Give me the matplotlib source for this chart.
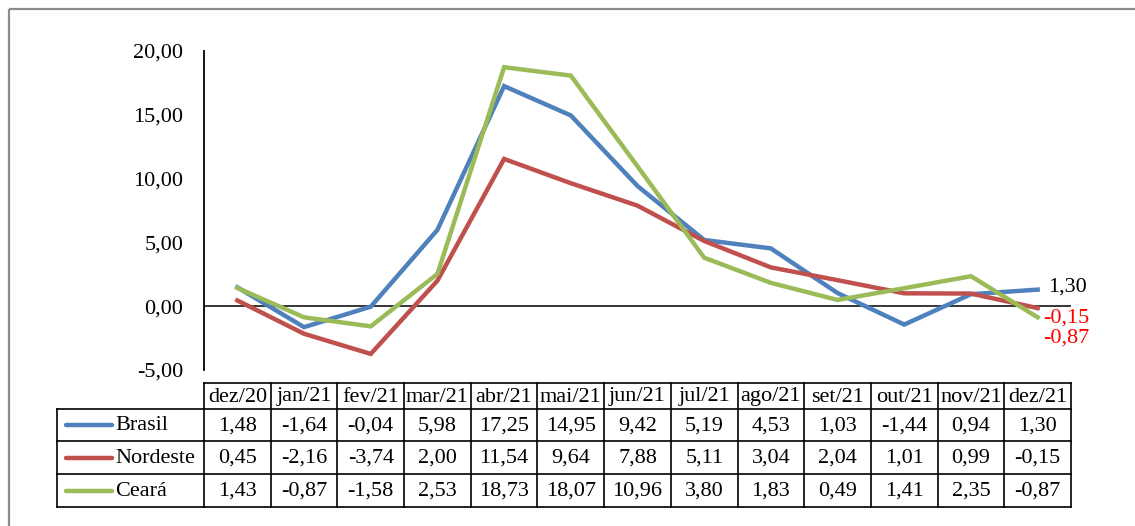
import matplotlib
matplotlib.use("Agg")
import matplotlib.pyplot as plt
from matplotlib.lines import Line2D
from matplotlib.patches import Rectangle

months = ["dez/20", "jan/21", "fev/21", "mar/21", "abr/21", "mai/21", "jun/21",
          "jul/21", "ago/21", "set/21", "out/21", "nov/21", "dez/21"]
series_names = ["Brasil", "Nordeste", "Ceará"]
brasil = [1.48, -1.64, -0.04, 5.98, 17.25, 14.95, 9.42, 5.19, 4.53, 1.03, -1.44, 0.94, 1.30]
nordeste = [0.45, -2.16, -3.74, 2.00, 11.54, 9.64, 7.88, 5.11, 3.04, 2.04, 1.01, 0.99, -0.15]
ceara = [1.43, -0.87, -1.58, 2.53, 18.73, 18.07, 10.96, 3.80, 1.83, 0.49, 1.41, 2.35, -0.87]
yticks = [-5, 0, 5, 10, 15, 20]

colors = ["#4F81BD", "#C0504D", "#9BBB59"]
values = [brasil, nordeste, ceara]

def fmt(v):
    return f"{v:.2f}".replace(".", ",")

W, H = 1135, 526
fig = plt.figure(figsize=(W / 100, H / 100), dpi=100)
plt.rcParams['font.family'] = ['Liberation Serif', 'DejaVu Serif']
FS = 16

# plot axes geometry in pixels
L, R, T, B = 204, 1071, 51, 370
ax = fig.add_axes([L / W, 1 - B / H, (R - L) / W, (B - T) / H])
n = len(months)
x = list(range(n))
for vals, c in zip(values, colors):
    ax.plot(x, vals, color=c, lw=3.2, solid_joinstyle='miter', zorder=3)
ax.set_xlim(-0.5, n - 0.5)
ax.set_ylim(-5, 20)
ax.set_yticks(yticks)
ax.set_yticklabels([fmt(v) for v in yticks], fontsize=FS)
ax.tick_params(axis='y', length=0, pad=15)
ax.set_xticks([])
for s in ["top", "right", "bottom"]:
    ax.spines[s].set_visible(False)
ax.spines["left"].set_linewidth(1.3)
ax.axhline(0, color="black", lw=1.1, zorder=2)
ax.patch.set_alpha(0)

# end labels
ax.annotate(fmt(brasil[-1]), xy=(n - 1, brasil[-1]), xytext=(10, 3),
            textcoords="offset pixels", fontsize=FS, color="black", va="center", ha="left")
ax.annotate(fmt(nordeste[-1]), xy=(n - 1, nordeste[-1]), xytext=(5, -10),
            textcoords="offset pixels", fontsize=FS, color="#FF0000", va="center", ha="left")
ax.annotate(fmt(ceara[-1]), xy=(n - 1, ceara[-1]), xytext=(5, -21),
            textcoords="offset pixels", fontsize=FS, color="#FF0000", va="center", ha="left")

# overlay in pixel coordinates for table and frame
ov = fig.add_axes([0, 0, 1, 1])
ov.set_xlim(0, W)
ov.set_ylim(H, 0)
ov.axis("off")
ov.patch.set_alpha(0)

# outer frame
ov.add_patch(Rectangle((8.5, 8.5), W + 20, H + 20, fill=False, ec="#8C8C8C", lw=1.6))

cw = (R - L) / n
hdr_top, hdr_bot = 383, 409
row_edges = [409, 441, 474, 507]
lab_left = 57
lw = 1.2
# header cells
ov.add_line(Line2D([L, R], [hdr_top, hdr_top], color="black", lw=lw))
for i in range(n + 1):
    xe = L + i * cw
    ov.add_line(Line2D([xe, xe], [hdr_top, row_edges[-1]], color="black", lw=lw))
for i, m in enumerate(months):
    ov.text(L + (i + 0.5) * cw, (hdr_top + hdr_bot) / 2 + 1, m, ha="center", va="center", fontsize=FS)
# rows
for y in row_edges:
    ov.add_line(Line2D([lab_left, R], [y, y], color="black", lw=lw))
ov.add_line(Line2D([lab_left, lab_left], [row_edges[0], row_edges[-1]], color="black", lw=lw))
for r, (name, vals, c) in enumerate(zip(series_names, values, colors)):
    yc = (row_edges[r] + row_edges[r + 1]) / 2 + 1
    ov.add_line(Line2D([66, 112], [yc - 1, yc - 1], color=c, lw=3.2, solid_capstyle="round"))
    ov.text(115, yc, name, ha="left", va="center", fontsize=FS)
    for i, v in enumerate(vals):
        ov.text(L + (i + 0.5) * cw, yc, fmt(v), ha="center", va="center", fontsize=FS)

fig.savefig("out.png", dpi=100)
